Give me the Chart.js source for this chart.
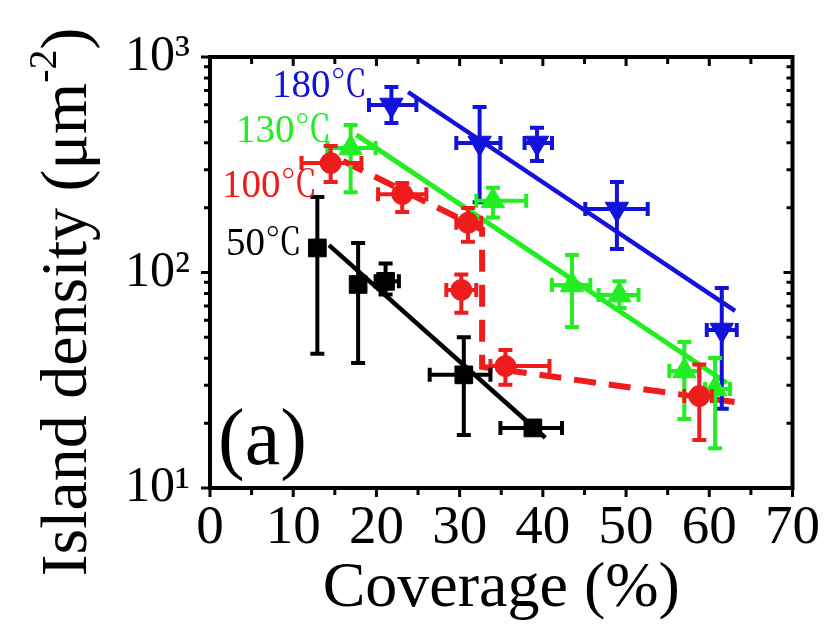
<!DOCTYPE html>
<html>
<head>
<meta charset="utf-8">
<script src="https://cdn.jsdelivr.net/npm/chart.js@4.4.1/dist/chart.umd.min.js"></script>
<style>
  html, body { margin: 0; padding: 0; background: #ffffff; }
  #c { display: block; }
</style>
</head>
<body>
<canvas id="c" width="828" height="628"></canvas>
<script>
// ---------------- data ----------------
const xTicks = [0, 10, 20, 30, 40, 50, 60, 70];
const yTickLabels = { 10: '10\u00B9', 100: '10\u00B2', 1000: '10\u00B3' };

// 50 C (black squares)
const coverage50 = [12.9, 17.8, 21.1, 30.5, 38.8];
const density50  = [130, 88, 91, 33.5, 19];
const yLo50 = [42, 38, 79, 17.6, 19];
const yHi50 = [224, 137, 110, 50, 19];
const xLo50 = [12.9, 17.8, 19.9, 26.4, 34.9];
const xHi50 = [12.9, 17.8, 22.7, 33.7, 42.3];

// 100 C (red circles)
const coverage100 = [14.5, 23.1, 31.0, 30.2, 35.5, 58.8];
const density100  = [322, 231, 170, 83, 36.8, 26.7];
const yLo100 = [263, 191, 139, 65, 30.1, 16.7];
const yHi100 = [386, 260, 199, 98, 43.7, 37.4];
const xLo100 = [11.0, 20.2, 29.6, 28.4, 33.7, 57.0];
const xHi100 = [18.2, 26.0, 32.6, 32.0, 40.8, 60.3];

// 130 C (green up triangles)
const coverage130 = [16.9, 34.0, 43.5, 49.2, 57.0, 60.7];
const density130  = [378, 215, 87.5, 78.6, 34.9, 28.8];
const yLo130 = [236, 180, 55.8, 68.5, 20.9, 15.3];
const yHi130 = [483, 247, 120.6, 91, 47.6, 40.1];
const xLo130 = [14.1, 32.0, 41.1, 46.7, 55.2, 59.5];
const xHi130 = [19.9, 38.0, 45.7, 51.5, 58.8, 62.5];

// 180 C (blue down triangles)
const coverage180 = [21.8, 32.4, 39.3, 48.9, 61.5];
const density180  = [599, 399, 399, 197, 54.1];
const yLo180 = [494, 212, 329, 128.5, 23.3];
const yHi180 = [726, 586, 469, 263, 84.8];
const xLo180 = [19.1, 29.6, 37.8, 45.1, 59.7];
const xHi180 = [24.8, 34.9, 41.1, 52.6, 63.3];

// guide lines
const fit50x = [14.3, 40.3],  fit50y = [134, 17.1];
const fit130x = [17.6, 62.1], fit130y = [435, 30.7];
const fit180x = [23.8, 63.1], fit180y = [688, 66.3];
const dash100x = [16, 32.7, 32.7, 63.9], dash100y = [329, 158, 36.5, 24.8];

// ---------------- styling ----------------
const SERIF = '"Liberation Serif"';
const CJKSERIF = '"Noto Serif CJK SC"';
const C_BLACK = '#000000';
const C_RED = '#ee1c1c';
const C_GREEN = '#22ee22';
const C_BLUE = '#1212dc';

function pts(xs, ys) { return xs.map((x, i) => ({ x: x, y: ys[i] })); }

function pointSet(label, xs, ys, color, style, radius, rot, err) {
  return {
    type: 'scatter', label: label, data: pts(xs, ys),
    backgroundColor: color, borderColor: color, borderWidth: 1,
    pointStyle: style, pointRadius: radius, pointRotation: rot,
    showLine: false, order: 1, errorBars: err
  };
}
function lineSet(label, xs, ys, color, width, dash) {
  return {
    type: 'line', label: label, data: pts(xs, ys),
    borderColor: color, backgroundColor: color, borderWidth: width,
    borderDash: dash || [], pointRadius: 0, fill: false, tension: 0,
    order: 2, borderCapStyle: 'butt'
  };
}

const datasets = [
  lineSet('fit 50', fit50x, fit50y, C_BLACK, 4.5),
  lineSet('fit 100', dash100x, dash100y, C_RED, 6, [22, 13]),
  lineSet('fit 130', fit130x, fit130y, C_GREEN, 5),
  lineSet('fit 180', fit180x, fit180y, C_BLUE, 4.5),
  pointSet('50\u2103', coverage50, density50, C_BLACK, 'rect', 12.5, 0,
    { xLo: xLo50, xHi: xHi50, yLo: yLo50, yHi: yHi50 }),
  pointSet('100\u2103', coverage100, density100, C_RED, 'circle', 10.5, 0,
    { xLo: xLo100, xHi: xHi100, yLo: yLo100, yHi: yHi100 }),
  pointSet('130\u2103', coverage130, density130, C_GREEN, 'triangle', 13.5, 0,
    { xLo: xLo130, xHi: xHi130, yLo: yLo130, yHi: yHi130 }),
  pointSet('180\u2103', coverage180, density180, C_BLUE, 'triangle', 13.5, 180,
    { xLo: xLo180, xHi: xHi180, yLo: yLo180, yHi: yHi180 })
];

// ---------------- plugins ----------------
const errorBarPlugin = {
  id: 'errorBars',
  beforeDatasetDraw(chart, args) {
    const ds = chart.data.datasets[args.index];
    if (!ds.errorBars) return;
    const xs = chart.scales.x, ys = chart.scales.y, ctx = chart.ctx;
    const e = ds.errorBars, cap = 7;
    ctx.save();
    ctx.strokeStyle = ds.borderColor;
    ctx.lineWidth = 4;
    ctx.lineCap = 'butt';
    ds.data.forEach((p, i) => {
      const px = xs.getPixelForValue(p.x), py = ys.getPixelForValue(p.y);
      const yl = ys.getPixelForValue(e.yLo[i]), yh = ys.getPixelForValue(e.yHi[i]);
      const xl = xs.getPixelForValue(e.xLo[i]), xh = xs.getPixelForValue(e.xHi[i]);
      ctx.beginPath();
      if (Math.abs(yl - yh) > 1) {
        ctx.moveTo(px, yl); ctx.lineTo(px, yh);
        ctx.moveTo(px - cap, yl); ctx.lineTo(px + cap, yl);
        ctx.moveTo(px - cap, yh); ctx.lineTo(px + cap, yh);
      }
      if (Math.abs(xh - xl) > 1) {
        ctx.moveTo(xl, py); ctx.lineTo(xh, py);
        ctx.moveTo(xl, py - cap); ctx.lineTo(xl, py + cap);
        ctx.moveTo(xh, py - cap); ctx.lineTo(xh, py + cap);
      }
      ctx.stroke();
    });
    ctx.restore();
  }
};

function tempLabel(ctx, num, x, y, color) {
  ctx.fillStyle = color;
  ctx.font = '39px ' + SERIF;
  ctx.fillText(num, x, y);
  const w = ctx.measureText(num).width;
  ctx.font = '37px ' + CJKSERIF;
  ctx.fillText('\u2103', x + w, y);
}

const framePlugin = {
  id: 'frame',
  afterDraw(chart) {
    const ctx = chart.ctx, a = chart.chartArea;
    const xs = chart.scales.x, ys = chart.scales.y;
    ctx.save();
    ctx.strokeStyle = '#000';
    ctx.lineWidth = 4;
    ctx.strokeRect(a.left, a.top, a.right - a.left, a.bottom - a.top);
    ctx.lineWidth = 3;
    ctx.beginPath();
    for (let v = 0; v <= 70; v += 5) {
      const px = xs.getPixelForValue(v);
      const len = (v % 10 === 0) ? 9 : 7;
      ctx.moveTo(px, a.bottom); ctx.lineTo(px, a.bottom + len);
      ctx.moveTo(px, a.top); ctx.lineTo(px, a.top + len);
    }
    for (let d = 10; d <= 1000; d *= 10) {
      for (let m = 1; m <= 9; m++) {
        const v = d * m;
        if (v > 1000) break;
        const py = ys.getPixelForValue(v);
        const len = (m === 1) ? 9 : 6;
        ctx.moveTo(a.left, py); ctx.lineTo(a.left - len, py);
        ctx.moveTo(a.right, py); ctx.lineTo(a.right - len, py);
      }
    }
    ctx.stroke();

    // temperature labels
    ctx.textBaseline = 'alphabetic';
    ctx.textAlign = 'left';
    tempLabel(ctx, '180', 272, 97, C_BLUE);
    tempLabel(ctx, '130', 236, 142, C_GREEN);
    tempLabel(ctx, '100', 222, 197, C_RED);
    tempLabel(ctx, '50', 226, 255, C_BLACK);
    // panel label
    ctx.fillStyle = C_BLACK;
    ctx.font = '80px ' + SERIF;
    ctx.fillText('(a)', 218, 464);

    // y axis title with superscript
    ctx.translate(86, 302);
    ctx.rotate(-Math.PI / 2);
    const big = '66px ' + SERIF, small = '40px ' + SERIF;
    const t1 = 'Island density (\u03BCm', t2 = '-2', t3 = ')';
    ctx.font = big; const w1 = ctx.measureText(t1).width, w3 = ctx.measureText(t3).width;
    ctx.font = small; const w2 = ctx.measureText(t2).width;
    let x0 = -(w1 + w2 + w3) / 2;
    ctx.fillStyle = '#000';
    ctx.font = big; ctx.fillText(t1, x0, 0);
    ctx.font = small; ctx.fillText(t2, x0 + w1, -30);
    ctx.font = big; ctx.fillText(t3, x0 + w1 + w2, 0);
    ctx.restore();
  }
};

function build() {
  new Chart(document.getElementById('c'), {
    type: 'scatter',
    data: { datasets: datasets },
    options: {
      responsive: false,
      animation: false,
      events: [],
      font: { family: SERIF },
      layout: { padding: { left: 0, right: 32, top: 57, bottom: 0 } },
      plugins: { legend: { display: false }, tooltip: { enabled: false } },
      scales: {
        x: {
          type: 'linear', min: 0, max: 70,
          afterBuildTicks(s) { s.ticks = xTicks.map(v => ({ value: v })); },
          afterFit(s) { s.height = 140; },
          grid: { display: false, drawTicks: false },
          border: { display: false },
          ticks: { color: '#000', font: { family: SERIF, size: 55 }, padding: 8, maxRotation: 0, autoSkip: false },
          title: { display: true, text: 'Coverage (%)', color: '#000',
                   font: { family: SERIF, size: 64 }, padding: { top: 0, bottom: 0 } }
        },
        y: {
          type: 'logarithmic', min: 10, max: 1000,
          afterBuildTicks(s) { s.ticks = [10, 100, 1000].map(v => ({ value: v, major: true })); },
          afterFit(s) { s.width = 210; },
          grid: { display: false, drawTicks: false },
          border: { display: false },
          ticks: { color: '#000', font: { family: SERIF, size: 50 }, padding: 20, autoSkip: false,
                   callback: (v) => yTickLabels[v] || '' },
          title: { display: false }
        }
      }
    },
    plugins: [errorBarPlugin, framePlugin]
  });
}

Chart.defaults.font.family = SERIF;
if (document.fonts && document.fonts.load) {
  Promise.all([
    document.fonts.load('40px "Liberation Serif"', 'Island 0123'),
    document.fonts.load('40px "Noto Serif CJK SC"', '\u2103')
  ]).then(build, build);
} else {
  build();
}
</script>
</body>
</html>
